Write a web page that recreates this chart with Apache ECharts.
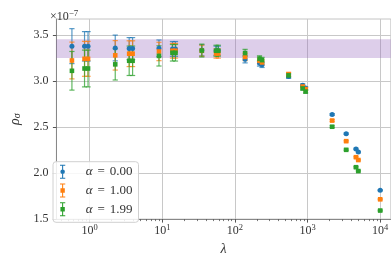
<!DOCTYPE html>
<html><head><meta charset="utf-8">
<script src="https://cdn.jsdelivr.net/npm/echarts@6/dist/echarts.min.js"></script>
<style>html,body{margin:0;padding:0;background:#fff}#c{width:391px;height:261px}</style>
</head><body><div id="c"></div>
<script>
const lambdas = [0.57, 0.85, 0.95, 2.25, 3.5, 3.9, 9.0, 13.8, 15.2, 35, 55, 59, 138, 218, 236, 548, 857, 940, 2180, 3400, 4640, 5000, 10000];
const rhoA0 = [3.380, 3.378, 3.378, 3.360, 3.353, 3.353, 3.357, 3.350, 3.350, 3.335, 3.330, 3.330, 3.238, 3.193, 3.178, 3.050, 2.955, 2.924, 2.637, 2.428, 2.263, 2.229, 1.813];
const errA0 = [0.19, 0.16, 0.16, 0.14, 0.12, 0.12, 0.09, 0.08, 0.08, 0.06, 0.05, 0.05, 0.04, 0.03, 0.03, 0.02, 0.015, 0.015, 0.01, 0.008, 0.008, 0.008, 0.006];
const rhoA1 = [3.224, 3.242, 3.242, 3.280, 3.298, 3.298, 3.322, 3.330, 3.330, 3.330, 3.300, 3.300, 3.263, 3.221, 3.203, 3.075, 2.941, 2.913, 2.571, 2.347, 2.173, 2.142, 1.715];
const errA1 = [0.20, 0.19, 0.19, 0.16, 0.14, 0.14, 0.10, 0.08, 0.08, 0.06, 0.05, 0.05, 0.04, 0.03, 0.03, 0.02, 0.015, 0.015, 0.01, 0.008, 0.008, 0.008, 0.006];
const rhoA2 = [3.112, 3.137, 3.137, 3.182, 3.221, 3.221, 3.274, 3.308, 3.308, 3.332, 3.330, 3.330, 3.305, 3.245, 3.228, 3.062, 2.920, 2.886, 2.504, 2.253, 2.064, 2.022, 1.593];
const errA2 = [0.21, 0.20, 0.20, 0.17, 0.16, 0.16, 0.11, 0.09, 0.09, 0.07, 0.06, 0.06, 0.04, 0.03, 0.03, 0.02, 0.015, 0.015, 0.01, 0.008, 0.008, 0.008, 0.006];
const seriesNames = ['α = 0.00', 'α = 1.00', 'α = 1.99'];
const colors = ['#1f77b4', '#ff7f0e', '#2ca02c'];
const bandRange = [3.25, 3.455];
const yTicks = [1.5, 2.0, 2.5, 3.0, 3.5];
const xTicks = [1, 10, 100, 1000, 10000];
const xMinor = [];
[0.1, 1, 10, 100, 1000, 10000].forEach(d => { for (let k = 2; k <= 9; k++) xMinor.push(+(d * k).toPrecision(3)); });

const serif = '"Liberation Serif", "DejaVu Serif", serif';
const chart = echarts.init(document.getElementById('c'), null, {renderer: 'canvas'});

const allRho = [rhoA0, rhoA1, rhoA2];
const allErr = [errA0, errA1, errA2];
const symbols = ['circle', 'rect', 'rect'];
const iconPaths = [
  'path://M2 0H8V1.2H2ZM4.4 0H5.6V16H4.4ZM2 14.8H8V16H2ZM7.6 8A2.6 2.6 0 1 1 2.4 8A2.6 2.6 0 1 1 7.6 8Z',
  'path://M2 0H8V1.2H2ZM4.4 0H5.6V16H4.4ZM2 14.8H8V16H2ZM2.5 5.5H7.5V10.5H2.5Z',
  'path://M2 0H8V1.2H2ZM4.4 0H5.6V16H4.4ZM2 14.8H8V16H2ZM2.5 5.5H7.5V10.5H2.5Z'
];

const series = [{
  type: 'line', data: [], xAxisIndex: 0, z: 1, silent: true,
  markArea: { silent: true, itemStyle: { color: 'rgba(148,103,189,0.32)' },
    data: [[{ yAxis: bandRange[0] }, { yAxis: bandRange[1] }]] }
}];
for (let s = 0; s < 3; s++) {
  const data = lambdas.map((l, i) => [l, allRho[s][i], allErr[s][i]]);
  series.push({
    type: 'custom', name: seriesNames[s] + '_err', z: 3,
    data: data,
    encode: { x: 0, y: 1 },
    renderItem: (params, api) => {
      const x = api.value(0), y = api.value(1), e = api.value(2);
      const top = api.coord([x, y + e]);
      const bot = api.coord([x, y - e]);
      const cw = 2.6;
      const st = { stroke: colors[s], lineWidth: 1.2, opacity: 0.75 };
      return { type: 'group', children: [
        { type: 'line', shape: { x1: top[0], y1: top[1], x2: bot[0], y2: bot[1] }, style: st },
        { type: 'line', shape: { x1: top[0] - cw, y1: top[1], x2: top[0] + cw, y2: top[1] }, style: st },
        { type: 'line', shape: { x1: bot[0] - cw, y1: bot[1], x2: bot[0] + cw, y2: bot[1] }, style: st }
      ]};
    }
  });
  series.push({
    type: 'scatter', name: seriesNames[s], z: 4,
    data: data.map(d => [d[0], d[1]]),
    symbol: symbols[s], symbolSize: s === 0 ? 5 : 4.6,
    itemStyle: { color: colors[s], opacity: 1 },
    emphasis: { disabled: true }
  });
}

chart.setOption({
  animation: false,
  grid: { left: 46, right: 0, top: 19, bottom: 34.3, show: true, borderColor: '#c4c4c4', borderWidth: 1 },
  title: {
    text: '×10{sup|−7}', left: 45, top: 4,
    textStyle: { fontFamily: serif, fontSize: 12, color: '#333', fontWeight: 'normal',
      rich: { sup: { fontFamily: serif, fontSize: 9, verticalAlign: 'top', padding: [0, 0, 6, 0], color: '#333' } } }
  },
  legend: {
    orient: 'vertical', left: 53, top: 161.7,
    data: seriesNames.map((n, i) => ({ name: n, icon: iconPaths[i] })),
    itemWidth: 22, itemHeight: 14, itemGap: 4.8,
    padding: [3, 6, 6, 7],
    backgroundColor: 'rgba(255,255,255,0.85)', borderColor: '#d0d0d0', borderWidth: 1, borderRadius: 3,
    formatter: n => '{i|α}{eq|=}' + n.slice(4),
    textStyle: { fontFamily: serif, fontSize: 13, color: '#333', padding: [0, 0, 0, 7],
      rich: { i: { fontFamily: serif, fontStyle: 'italic', fontSize: 13, color: '#333' },
              eq: { fontFamily: serif, fontSize: 13, color: '#333', padding: [0, 5, 0, 5] } } }
  },
  xAxis: [{
    type: 'log', logBase: 10, min: 0.3484, max: 14020,
    name: 'λ', nameLocation: 'middle', nameGap: 21,
    nameTextStyle: { fontFamily: serif, fontStyle: 'italic', fontSize: 14, color: '#333' },
    axisLine: { show: true, onZero: false, lineStyle: { color: '#888', width: 1 } },
    axisTick: { show: true, customValues: xTicks, length: 3.5, lineStyle: { color: '#555' } },
    axisLabel: { customValues: xTicks, margin: 4,
      formatter: v => '10{sup|' + Math.round(Math.log10(v)) + '}',
      fontFamily: serif, fontSize: 12, color: '#333',
      rich: { sup: { fontFamily: serif, fontSize: 8.5, verticalAlign: 'top', padding: [0, 0, 7, 0], color: '#333' } } },
    splitLine: { show: true, lineStyle: { color: '#c8c8c8', width: 1 } },
    minorTick: { show: false }
  }, {
    type: 'log', logBase: 10, min: 0.3484, max: 14020, position: 'bottom', gridIndex: 0,
    axisLine: { show: false },
    axisTick: { show: true, customValues: xMinor, length: 2, lineStyle: { color: '#555', width: 0.8 } },
    axisLabel: { show: false },
    splitLine: { show: false }
  }],
  yAxis: {
    type: 'value', min: 1.5, max: 3.675,
    name: 'ρ{sub|σ}', nameLocation: 'middle', nameGap: 24, nameRotate: 90,
    nameTextStyle: { fontFamily: serif, fontStyle: 'italic', fontSize: 14, color: '#333',
      rich: { sub: { fontFamily: serif, fontStyle: 'italic', fontSize: 10, verticalAlign: 'bottom', padding: [5, 0, 0, 0], color: '#333' } } },
    axisLine: { show: true, lineStyle: { color: '#888', width: 1 } },
    axisTick: { show: true, customValues: yTicks, length: 3.5, lineStyle: { color: '#555' } },
    axisLabel: { customValues: yTicks, margin: 8, formatter: v => v.toFixed(1),
      fontFamily: serif, fontSize: 12, color: '#333' },
    splitLine: { show: true, lineStyle: { color: '#c8c8c8', width: 1 } }
  },
  series: series
});
</script></body></html>
